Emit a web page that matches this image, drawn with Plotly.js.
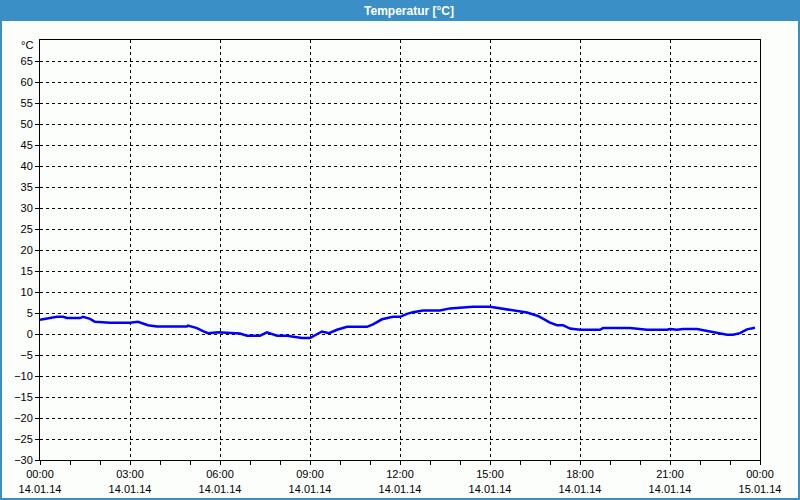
<!DOCTYPE html>
<html>
<head>
<meta charset="utf-8">
<script src="https://cdn.plot.ly/plotly-3.0.1.min.js"></script>
<style>
html,body{margin:0;padding:0;background:#fcfefc;}
#chart{width:800px;height:500px;}
</style>
</head>
<body>
<div id="chart"></div>
<script>
// Time of measurement (14.01.2014)
const times = [
  "2014-01-14 00:00","2014-01-14 00:20","2014-01-14 00:34","2014-01-14 00:46","2014-01-14 00:54",
  "2014-01-14 01:20","2014-01-14 01:26","2014-01-14 01:40","2014-01-14 01:50","2014-01-14 02:20",
  "2014-01-14 03:00","2014-01-14 03:16","2014-01-14 03:36","2014-01-14 03:54","2014-01-14 04:54",
  "2014-01-14 04:56","2014-01-14 05:14","2014-01-14 05:26","2014-01-14 05:36","2014-01-14 05:56",
  "2014-01-14 06:40","2014-01-14 06:54","2014-01-14 07:20","2014-01-14 07:34","2014-01-14 07:54",
  "2014-01-14 08:14","2014-01-14 08:34","2014-01-14 08:44","2014-01-14 09:00","2014-01-14 09:06",
  "2014-01-14 09:24","2014-01-14 09:38","2014-01-14 09:54","2014-01-14 10:14","2014-01-14 10:54",
  "2014-01-14 11:06","2014-01-14 11:24","2014-01-14 11:46","2014-01-14 12:00","2014-01-14 12:14",
  "2014-01-14 12:26","2014-01-14 12:46","2014-01-14 13:20","2014-01-14 13:40","2014-01-14 14:26",
  "2014-01-14 15:00","2014-01-14 15:20","2014-01-14 15:46","2014-01-14 16:14","2014-01-14 16:36",
  "2014-01-14 17:00","2014-01-14 17:14","2014-01-14 17:26","2014-01-14 17:40","2014-01-14 18:00",
  "2014-01-14 18:40","2014-01-14 18:46","2014-01-14 19:40","2014-01-14 20:14","2014-01-14 20:54",
  "2014-01-14 21:00","2014-01-14 21:14","2014-01-14 21:26","2014-01-14 21:54","2014-01-14 22:14",
  "2014-01-14 22:34","2014-01-14 22:54","2014-01-14 23:06","2014-01-14 23:20","2014-01-14 23:34",
  "2014-01-14 23:46","2014-01-14 23:50"
];
// Temperature in °C
const temps = [
  3.4, 3.8, 4.1, 4.1, 3.8,
  3.8, 4.1, 3.6, 2.9, 2.7,
  2.7, 2.9, 2.1, 1.8, 1.8,
  2.0, 1.4, 0.7, 0.2, 0.4,
  0.1, -0.4, -0.4, 0.4, -0.4,
  -0.4, -0.7, -0.95, -0.95, -0.6,
  0.6, 0.2, 1.0, 1.7, 1.7,
  2.3, 3.5, 4.1, 4.1, 4.8,
  5.2, 5.6, 5.6, 6.1, 6.5,
  6.5, 6.1, 5.6, 5.1, 4.3,
  2.7, 2.1, 2.1, 1.3, 1.0,
  1.0, 1.4, 1.4, 1.0, 1.0,
  1.2, 1.0, 1.2, 1.2, 0.7,
  0.2, -0.2, -0.2, 0.2, 1.1,
  1.5, 1.5
];
// Axis ticks
const yTicks = [-30,-25,-20,-15,-10,-5,0,5,10,15,20,25,30,35,40,45,50,55,60,65];
const xTicks = ["2014-01-14 00:00","2014-01-14 03:00","2014-01-14 06:00","2014-01-14 09:00",
  "2014-01-14 12:00","2014-01-14 15:00","2014-01-14 18:00","2014-01-14 21:00","2014-01-15 00:00"];
const xTickText = ["00:00<br>14.01.14","03:00<br>14.01.14","06:00<br>14.01.14","09:00<br>14.01.14",
  "12:00<br>14.01.14","15:00<br>14.01.14","18:00<br>14.01.14","21:00<br>14.01.14","00:00<br>15.01.14"];
const titleText = "Temperatur [°C]";
const unitLabel = "°C";

const blue = "#3b8fc7";
const tickFont = {family: "Liberation Sans, Arial, sans-serif", size: 11, color: "#000"};

const trace = {
  x: times, y: temps, type: "scatter", mode: "lines",
  line: {color: "#0000ff", width: 2.5, shape: "linear"},
  hoverinfo: "skip", showlegend: false
};

const layout = {
  width: 800, height: 500,
  margin: {l: 40, r: 40, t: 40, b: 40},
  paper_bgcolor: "#fcfefc", plot_bgcolor: "#fcfefc",
  title: {
    text: "<b>" + titleText + "</b>",
    font: {family: "Liberation Sans, Arial, sans-serif", size: 12, color: "#ffffff"},
    x: 0.5125, xanchor: "center", xref: "paper",
    y: 1 - 10.5 / 500, yref: "container", yanchor: "middle"
  },
  xaxis: {
    type: "date",
    range: ["2014-01-14 00:00", "2014-01-15 00:00"],
    tickvals: xTicks, ticktext: xTickText,
    ticks: "outside", ticklen: 4, tickcolor: "#000", tickwidth: 1,
    tickfont: tickFont,
    showgrid: true, gridcolor: "#000", gridwidth: 1, griddash: "3px,3px",
    showline: true, linecolor: "#000", linewidth: 1, mirror: true,
    zeroline: false,
    minor: {dtick: 3600000, ticks: "outside", ticklen: 4, tickcolor: "#000", showgrid: false},
    fixedrange: true
  },
  yaxis: {
    range: [-30, 70],
    tickvals: yTicks,
    ticks: "outside", ticklen: 4, tickcolor: "#000", tickwidth: 1,
    tickfont: tickFont,
    showgrid: true, gridcolor: "#000", gridwidth: 1, griddash: "3px,3px",
    showline: true, linecolor: "#000", linewidth: 1, mirror: true,
    zeroline: false,
    fixedrange: true
  },
  shapes: [
    {type: "rect", xref: "paper", yref: "paper", layer: "below",
     x0: -40/720, x1: 1 + 40/720, y0: 1 + 19/420, y1: 1 + 40/420,
     fillcolor: blue, line: {width: 0}},
    {type: "rect", xref: "paper", yref: "paper", layer: "above",
     x0: -39/720, x1: 1 + 39/720, y0: -39/420, y1: 1 + 39/420,
     fillcolor: "rgba(0,0,0,0)", line: {color: blue, width: 2}}
  ],
  annotations: [
    {text: unitLabel, xref: "paper", yref: "paper", x: 0, y: 1,
     xanchor: "right", yanchor: "middle", xshift: -5, yshift: -5,
     showarrow: false, font: tickFont}
  ]
};

Plotly.newPlot("chart", [trace], layout, {displayModeBar: false, staticPlot: true});
</script>
</body>
</html>
